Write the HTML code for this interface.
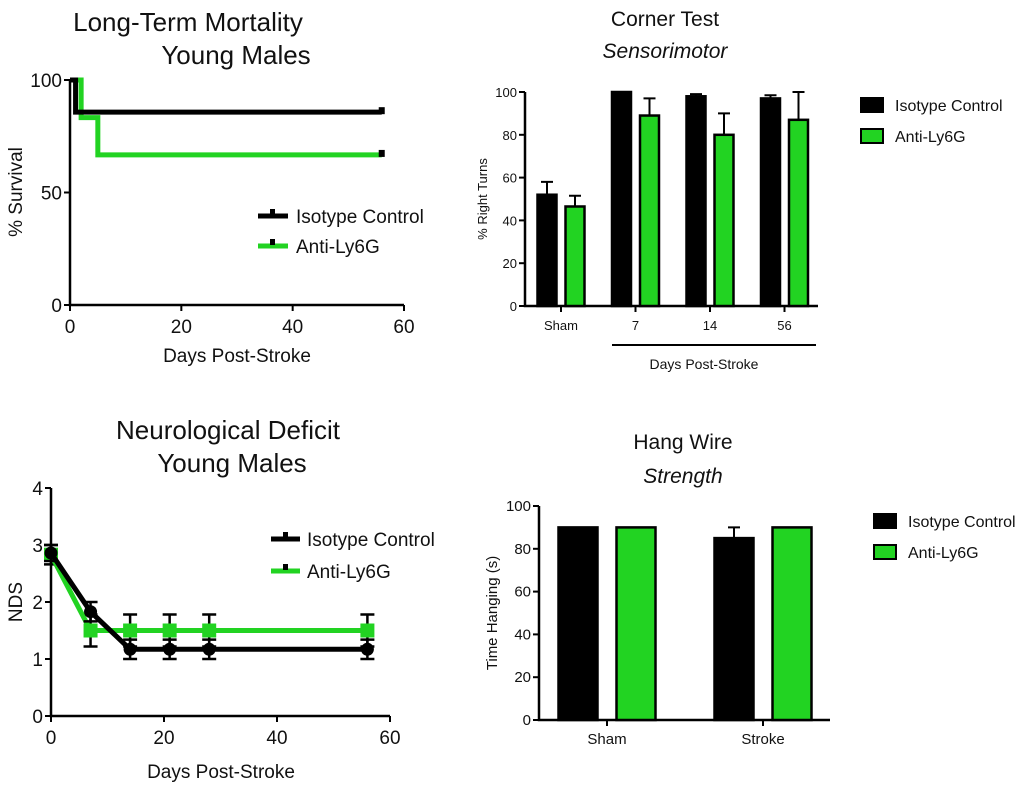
<!DOCTYPE html>
<html><head><meta charset="utf-8"><style>
body{margin:0;background:#fff;width:1020px;height:791px;overflow:hidden}
svg{font-family:"Liberation Sans",Arial,sans-serif}
</style></head><body>
<svg id="s" width="1020" height="791" xmlns="http://www.w3.org/2000/svg">
<g text-anchor="middle" fill="#111">
<text x="188" y="31" font-size="26">Long-Term Mortality</text>
<text x="236" y="64" font-size="26">Young Males</text>
<text x="665" y="26" font-size="21">Corner Test</text>
<text x="665" y="58" font-size="21" font-style="italic">Sensorimotor</text>
<text x="228" y="439" font-size="26">Neurological Deficit</text>
<text x="232" y="472" font-size="26">Young Males</text>
<text x="683" y="449" font-size="21">Hang Wire</text>
<text x="683" y="483" font-size="21" font-style="italic">Strength</text>
</g>
</svg>
<script>
// Survival data
const survDaysIso=[0,1,56]; const survIso=[100,85.7,85.7];
const survDaysAnti=[0,2,5,56]; const survAnti=[100,83.3,66.7,66.7];
const survXTicks=[0,20,40,60]; const survYTicks=[0,50,100];
// NDS data
const ndsDays=[0,7,14,21,28,56];
const ndsIso=[2.86,1.83,1.17,1.17,1.17,1.17]; const ndsIsoErr=[0.14,0.17,0.17,0.17,0.17,0.17];
const ndsAnti=[2.83,1.5,1.5,1.5,1.5,1.5]; const ndsAntiErr=[0.17,0.28,0.28,0.28,0.28,0.28];
const ndsXTicks=[0,20,40,60]; const ndsYTicks=[0,1,2,3,4];
// Corner test
const cornerCats=["Sham","7","14","56"];
const cornerIso=[52,100,98,97]; const cornerIsoErr=[6,0,1,1.5];
const cornerAnti=[46.5,89,80,87]; const cornerAntiErr=[5,8,10,13];
const cornerYTicks=[0,20,40,60,80,100];
// Hang wire
const hangCats=["Sham","Stroke"];
const hangIso=[90,85]; const hangIsoErr=[0,5];
const hangAnti=[90,90]; const hangAntiErr=[0,0];
const hangYTicks=[0,20,40,60,80,100];

const NS="http://www.w3.org/2000/svg", S=document.getElementById('s');
const GREEN="#22d322";
function el(t,a,p){const e=document.createElementNS(NS,t);for(const k in a)e.setAttribute(k,a[k]);(p||S).appendChild(e);return e;}
function txt(x,y,s,size,anchor,p,rot){const e=el('text',{x:x,y:y,'font-size':size,'text-anchor':anchor||'middle',fill:'#111'},p);if(rot)e.setAttribute('transform','rotate(-90 '+x+' '+y+')');e.textContent=s;return e;}
function lin(a,b){return v=>a[1]+(v-a[0])*(b[1]-a[1])/(b[0]-a[0]);}

// ---- Survival ----
(function(){
const g=el('g',{});
const X=lin([0,70],[60,404]),Y=lin([0,305],[100,80]);
const ax=el('path',{d:`M${X(0)} ${Y(100)}V${Y(0)}H${X(60)}`,stroke:'#000','stroke-width':2.5,fill:'none'},g);

survXTicks.forEach(t=>{el('line',{x1:X(t),x2:X(t),y1:Y(0),y2:Y(0)+6,stroke:'#000','stroke-width':2},g);const l=txt(X(t),Y(0)+28,t,19,'middle',g);});
survYTicks.forEach(t=>{el('line',{x1:X(0)-6,x2:X(0),y1:Y(t),y2:Y(t),stroke:'#000','stroke-width':2},g);const l=txt(X(0)-8,Y(t)+7,t,19,'end',g);});
function step(d,v,col,name){let p=`M${X(d[0])} ${Y(v[0])}`;for(let i=1;i<d.length;i++){p+=`H${X(d[i])}V${Y(v[i])}`;}
const e=el('path',{d:p,stroke:col,'stroke-width':5,fill:'none'},g);
const n=d.length-1;el('rect',{x:X(d[n])-3,y:Y(v[n])-5,width:6,height:7,fill:'#000'},g);}
step(survDaysAnti,survAnti,GREEN,'anti-ly6g-survival-line');
step(survDaysIso,survIso,'#000','isotype-survival-line');
const xl=txt(237,362,'Days Post-Stroke',19,'middle',g);
const yl=txt(22,192,'% Survival',19,'middle',g,true);
[['#000','Isotype Control',216],[GREEN,'Anti-Ly6G',246]].forEach(([c,s,y])=>{const lg=el('g',{},g);
el('line',{x1:258,x2:288,y1:y,y2:y,stroke:c,'stroke-width':5},lg);el('rect',{x:270,y:y-7,width:5,height:6,fill:'#000'},lg);txt(296,y+7,s,19,'start',lg);});
})();

// ---- NDS ----
(function(){
const g=el('g',{});
const X=lin([0,51],[60,390]),Y=lin([0,716],[4,488]);
el('path',{d:`M${X(0)} ${Y(4)}V${Y(0)}H${X(60)}`,stroke:'#000','stroke-width':2.5,fill:'none'},g);
ndsXTicks.forEach(t=>{el('line',{x1:X(t),x2:X(t),y1:Y(0),y2:Y(0)+6,stroke:'#000','stroke-width':2},g);const l=txt(X(t),Y(0)+28,t,19,'middle',g);});
ndsYTicks.forEach(t=>{el('line',{x1:X(0)-6,x2:X(0),y1:Y(t),y2:Y(t),stroke:'#000','stroke-width':2},g);const l=txt(X(0)-8,Y(t)+7,t,19,'end',g);});
function series(v,e,col,sq,name){
const sg=el('g',{},g);
ndsDays.forEach((d,i)=>{const x=X(d);el('path',{d:`M${x-7} ${Y(v[i]+e[i])}H${x+7}M${x} ${Y(v[i]+e[i])}V${Y(v[i]-e[i])}M${x-7} ${Y(v[i]-e[i])}H${x+7}`,stroke:'#000','stroke-width':2.5,fill:'none'},sg);});
el('polyline',{points:ndsDays.map((d,i)=>X(d)+','+Y(v[i])).join(' '),stroke:col,'stroke-width':5,fill:'none'},sg);
ndsDays.forEach((d,i)=>{if(sq)el('rect',{x:X(d)-7,y:Y(v[i])-7,width:14,height:14,fill:col},sg);else el('circle',{cx:X(d),cy:Y(v[i]),r:6.5,fill:col},sg);});}
series(ndsAnti,ndsAntiErr,GREEN,true,'anti-ly6g-nds-series');
series(ndsIso,ndsIsoErr,'#000',false,'isotype-nds-series');
const xl=txt(221,778,'Days Post-Stroke',19,'middle',g);
const yl=txt(22,602,'NDS',19,'middle',g,true);
[['#000','Isotype Control',539],[GREEN,'Anti-Ly6G',571]].forEach(([c,s,y])=>{const lg=el('g',{},g);
el('line',{x1:271,x2:300,y1:y,y2:y,stroke:c,'stroke-width':5},lg);el('rect',{x:283,y:y-7,width:5,height:6,fill:'#000'},lg);txt(307,y+7,s,19,'start',lg);});
})();

// ---- Bar charts ----
function bars(name,cats,iso,isoE,anti,antiE,ticks,o){
const g=el('g',{});
const Y=lin([0,o.y0],[100,o.y100]);
el('path',{d:`M${o.ax} ${Y(100)}V${Y(0)}H${o.axEnd}`,stroke:'#000','stroke-width':2.5,fill:'none'},g);
ticks.forEach(t=>{el('line',{x1:o.ax-6,x2:o.ax,y1:Y(t),y2:Y(t),stroke:'#000','stroke-width':2},g);const l=txt(o.ax-8,Y(t)+5,t,o.fs,'end',g);});
cats.forEach((c,i)=>{const cx=o.c0+i*o.step;
el('line',{x1:cx,x2:cx,y1:Y(0),y2:Y(0)+6,stroke:'#000','stroke-width':2},g);
const l=txt(cx,Y(0)+24,c,o.fs,'middle',g);
[[iso,isoE,'#000',cx-o.gap/2-o.bw,'isotype'],[anti,antiE,GREEN,cx+o.gap/2,'anti-ly6g']].forEach(([v,e,col,x,nm])=>{
if(e[i]>0)el('path',{d:`M${x+o.bw/2} ${Y(v[i])}V${Y(v[i]+e[i])}M${x+o.bw/2-6} ${Y(v[i]+e[i])}H${x+o.bw/2+6}`,stroke:'#000','stroke-width':2},g);
const r=el('rect',{x:x,y:Y(v[i]),width:o.bw,height:Y(0)-Y(v[i]),fill:col,stroke:'#000','stroke-width':2.5},g);
});});
const yl=txt(o.ylx,(o.y0+o.y100)/2,o.ytitle,o.fs,'middle',g,true);
[['#000','Isotype Control',o.lgy],[GREEN,'Anti-Ly6G',o.lgy+31]].forEach(([c,s,y])=>{const lg=el('g',{},g);
el('rect',{x:o.lgx,y:y,width:22,height:14,fill:c,stroke:'#000','stroke-width':2},lg);txt(o.lgx+34,y+13,s,16,'start',lg);});
return g;}
const cg=bars('corner-chart',cornerCats,cornerIso,cornerIsoErr,cornerAnti,cornerAntiErr,cornerYTicks,
{y0:306,y100:92,ax:525,axEnd:818,c0:561,step:74.5,bw:19,gap:9,fs:13,ylx:487,ytitle:'% Right Turns',lgx:861,lgy:98});
el('line',{x1:612,x2:816,y1:345,y2:345,stroke:'#000','stroke-width':2},cg);
const dl=txt(704,369,'Days Post-Stroke',14,'middle',cg);
bars('hang-chart',hangCats,hangIso,hangIsoErr,hangAnti,hangAntiErr,hangYTicks,
{y0:720,y100:506,ax:539,axEnd:830,c0:607,step:156,bw:39,gap:19,fs:15,ylx:497,ytitle:'Time Hanging (s)',lgx:874,lgy:514});
</script>
</body></html>
